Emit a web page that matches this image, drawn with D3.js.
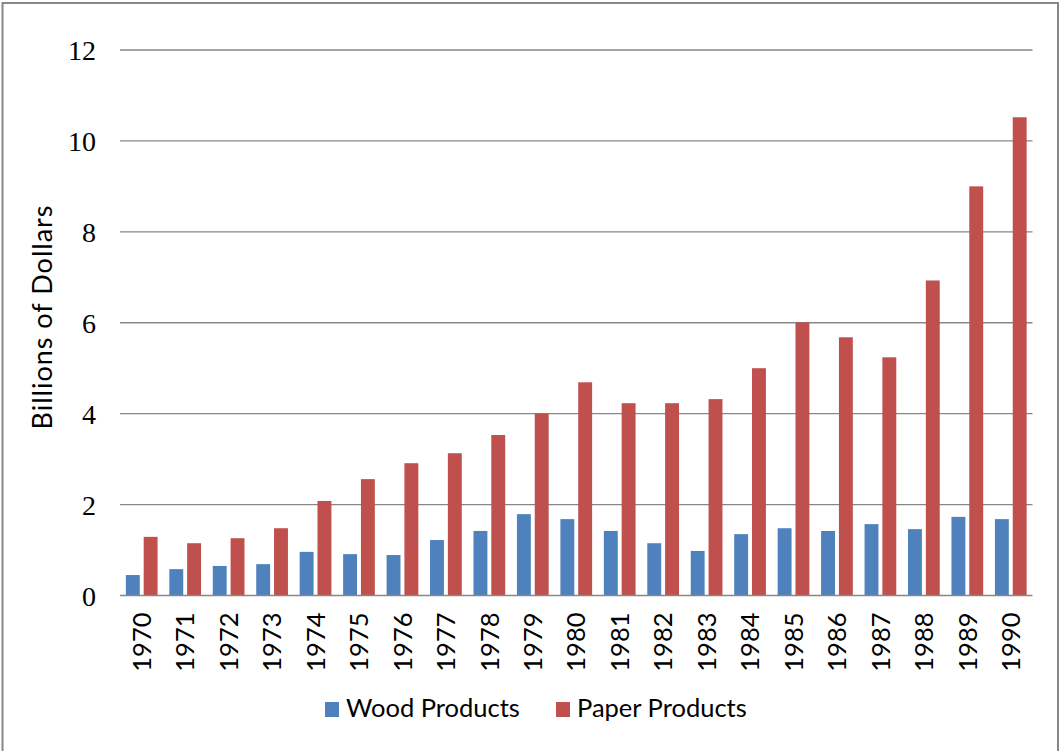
<!DOCTYPE html>
<html>
<head>
<meta charset="utf-8">
<script src="https://cdn.jsdelivr.net/npm/d3@7"></script>
<style>
  html, body { margin: 0; padding: 0; background: #fff; }
  svg { display: block; }
</style>
</head>
<body>
<svg id="chart" width="1060" height="751"></svg>
<script>
// Forest products exports, billions of dollars, 1970-1990
const years = ["1970","1971","1972","1973","1974","1975","1976","1977","1978","1979","1980",
               "1981","1982","1983","1984","1985","1986","1987","1988","1989","1990"];
const woodProducts  = [0.45,0.58,0.65,0.69,0.96,0.91,0.89,1.22,1.42,1.79,1.68,
                       1.42,1.15,0.98,1.35,1.48,1.42,1.57,1.46,1.73,1.68];
const paperProducts = [1.29,1.15,1.26,1.48,2.08,2.56,2.91,3.13,3.53,4.00,4.69,
                       4.23,4.23,4.32,5.00,6.01,5.68,5.24,6.93,9.00,10.52];
const seriesNames  = ["Wood Products", "Paper Products"];
const seriesColors = ["#4F81BD", "#C0504D"];
const yTicks = [0, 2, 4, 6, 8, 10, 12];
const yTitle = "Billions of Dollars";

const svg = d3.select("#chart");
const W = 1060, H = 751;

// chart frame
svg.append("rect")
  .attr("x", 2.5).attr("y", 3).attr("width", 1055.5).attr("height", H + 10)
  .attr("fill", "#fff").attr("stroke", "#878787").attr("stroke-width", 2);

const plot = { left: 120, right: 1032.5, top: 50, bottom: 595.5 };

const x0 = d3.scaleBand().domain(years).range([plot.left, plot.right]).paddingInner(0).paddingOuter(0);
const x1 = d3.scaleBand().domain(seriesNames)
  .range([x0.bandwidth() * 0.135, x0.bandwidth() * 0.865]).paddingInner(0.22).paddingOuter(0);
const y = d3.scaleLinear().domain([0, 12]).range([plot.bottom, plot.top]);

// horizontal gridlines
svg.append("g")
  .selectAll("line").data(yTicks.filter(d => d > 0)).join("line")
  .attr("x1", plot.left).attr("x2", plot.right)
  .attr("y1", d => y(d)).attr("y2", d => y(d))
  .attr("stroke", "#878787").attr("stroke-width", 1.4);

// y axis tick labels
const yAxis = d3.axisLeft(y).tickValues(yTicks).tickSize(0).tickPadding(24).tickFormat(d3.format("d"));
const gy = svg.append("g").attr("transform", `translate(${plot.left},0)`).call(yAxis);
gy.select(".domain").remove();
gy.selectAll("text")
  .attr("font-family", "'Liberation Serif', 'Times New Roman', serif")
  .attr("font-size", 28).attr("fill", "#000").attr("dy", "0.34em");

// y axis title
svg.append("text")
  .attr("transform", `translate(52,317) rotate(-90)`)
  .attr("text-anchor", "middle")
  .attr("font-family", "Lato, 'Open Sans', sans-serif")
  .attr("font-size", 27).attr("letter-spacing", 1).attr("fill", "#000")
  .text(yTitle);

// bars
const rows = years.map((yr, i) => ({ year: yr, values: [woodProducts[i], paperProducts[i]] }));
const groups = svg.append("g").selectAll("g").data(rows).join("g")
  .attr("transform", d => `translate(${x0(d.year)},0)`);
groups.selectAll("rect")
  .data(d => d.values.map((v, k) => ({ name: seriesNames[k], value: v, color: seriesColors[k] })))
  .join("rect")
  .attr("x", d => x1(d.name))
  .attr("width", x1.bandwidth())
  .attr("y", d => y(d.value))
  .attr("height", d => y(0) - y(d.value))
  .attr("fill", d => d.color);

// baseline
svg.append("line")
  .attr("x1", plot.left).attr("x2", plot.right)
  .attr("y1", y(0)).attr("y2", y(0))
  .attr("stroke", "#878787").attr("stroke-width", 1.4);

// x axis year labels
const xAxis = d3.axisBottom(x0).tickSize(0).tickPadding(0);
const gx = svg.append("g").attr("transform", `translate(0,${plot.bottom})`).call(xAxis);
gx.select(".domain").remove();
gx.selectAll("text")
  .attr("font-family", "Lato, 'Open Sans', sans-serif")
  .attr("font-size", 25.5).attr("fill", "#000")
  .attr("text-anchor", "end")
  .attr("transform", "rotate(-90)")
  .attr("x", -17).attr("y", 0).attr("dy", "0.36em");

// legend
const legendItems = [
  { name: seriesNames[0], color: seriesColors[0], x: 325 },
  { name: seriesNames[1], color: seriesColors[1], x: 556 }
];
const lg = svg.append("g").selectAll("g").data(legendItems).join("g")
  .attr("transform", d => `translate(${d.x},0)`);
lg.append("rect").attr("x", 0).attr("y", 702).attr("width", 14).attr("height", 15)
  .attr("fill", d => d.color);
lg.append("text").attr("x", 21).attr("y", 717)
  .attr("font-family", "Lato, 'Open Sans', sans-serif")
  .attr("font-size", 25.5).attr("fill", "#000")
  .text(d => d.name);
</script>
</body>
</html>
